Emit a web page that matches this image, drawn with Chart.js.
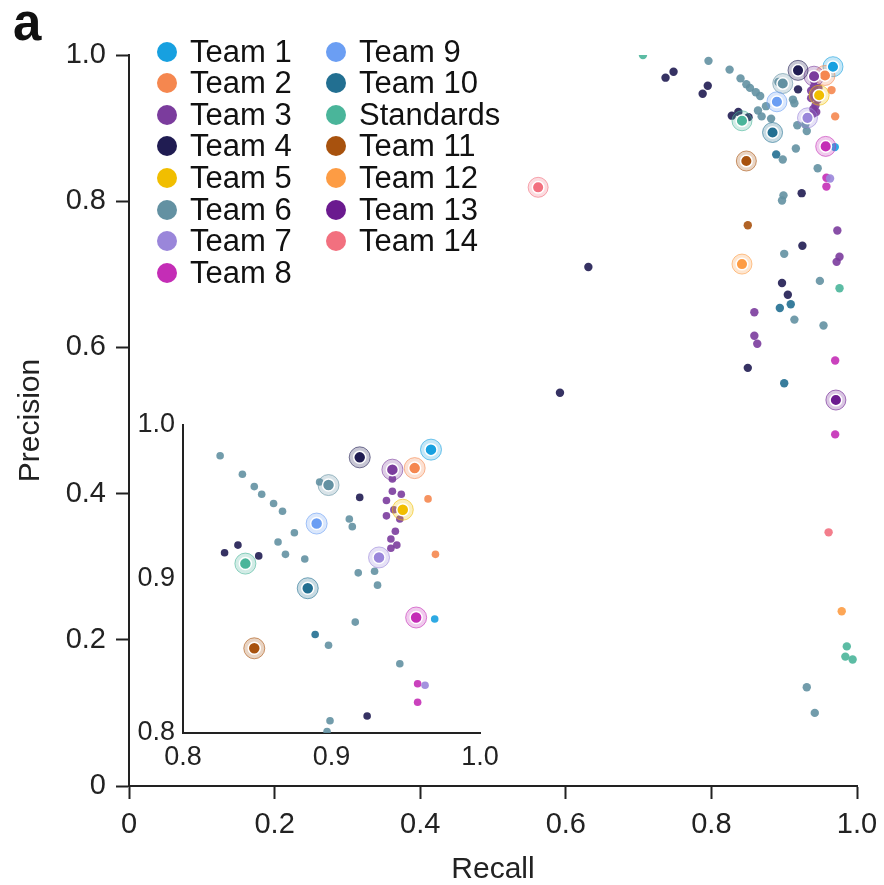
<!DOCTYPE html>
<html>
<head>
<meta charset="utf-8">
<script src="https://cdn.jsdelivr.net/npm/chart.js@4.4.1/dist/chart.umd.min.js"></script>
<style>
    body { margin: 0; background: #fff; font-family: "Liberation Sans", Arial, sans-serif; }
    #wrap { position: relative; width: 884px; height: 885px; overflow: hidden; }
    #main { position: absolute; left: 0; top: 0; }
    #inset { position: absolute; left: 100px; top: 405px; }
    #panel { position: absolute; left: 13px; top: -3px; font-size: 51px; font-weight: bold; line-height: 1; color: #111; }
    .item { position: absolute; display: flex; align-items: center; height: 32px; font-size: 31px; color: #111; white-space: nowrap; }
    .dot { width: 20px; height: 20px; border-radius: 50%; margin-right: 13px; }
</style>
</head>
<body>
<div id="wrap">
    <canvas id="main" width="884" height="885"></canvas>
    <canvas id="inset" width="400" height="375"></canvas>
    <div id="panel">a</div>
    <div id="legend"></div>
</div>
<script>
// legend order (two columns, column-major)
const teams = ['Team 1', 'Team 2', 'Team 3', 'Team 4', 'Team 5', 'Team 6', 'Team 7', 'Team 8',
               'Team 9', 'Team 10', 'Standards', 'Team 11', 'Team 12', 'Team 13', 'Team 14'];
const teamColors = ['#17a0e0', '#f5874f', '#7b3c9d', '#201c52', '#f1be00', '#6391a2', '#9a86da', '#c42db6',
                    '#6b9ef3', '#226f91', '#4ab59a', '#a8520e', '#fd9c44', '#6b1a8f', '#f2707f'];

// highlighted (best) submission of each team
const bestRecall    = [0.967, 0.956, 0.941, 0.919, 0.948, 0.898, 0.932, 0.957, 0.890, 0.884, 0.842, 0.848, 0.842, 0.971, 0.562];
const bestPrecision = [0.984, 0.972, 0.971, 0.979, 0.945, 0.961, 0.914, 0.875, 0.936, 0.894, 0.910, 0.855, 0.714, 0.528, 0.819];

// other submissions, [recall, precision]
const team1Runs = [[0.9695, 0.874]];
const team2Runs = [[0.965, 0.952], [0.970, 0.916]];
const team3Runs = [[0.941, 0.965], [0.941, 0.957], [0.947, 0.955], [0.937, 0.951], [0.942, 0.945], [0.937, 0.941],
                   [0.946, 0.939], [0.943, 0.931], [0.940, 0.926], [0.944, 0.922], [0.940, 0.920], [0.973, 0.760],
                   [0.976, 0.724], [0.972, 0.717], [0.859, 0.648], [0.859, 0.616], [0.863, 0.605]];
const team4Runs = [[0.919, 0.953], [0.828, 0.917], [0.837, 0.922], [0.851, 0.915], [0.924, 0.811], [0.592, 0.538],
                   [0.631, 0.710], [0.737, 0.969], [0.748, 0.977], [0.795, 0.958], [0.788, 0.947], [0.925, 0.739],
                   [0.897, 0.688], [0.905, 0.672], [0.850, 0.572]];
const team5Runs = [];
const team6Runs = [[0.796, 0.992], [0.825, 0.980], [0.840, 0.968], [0.848, 0.960], [0.853, 0.955], [0.861, 0.949],
                   [0.867, 0.944], [0.875, 0.930], [0.864, 0.924], [0.869, 0.916], [0.882, 0.913], [0.892, 0.963],
                   [0.912, 0.939], [0.914, 0.934], [0.918, 0.904], [0.929, 0.905], [0.931, 0.896], [0.916, 0.872],
                   [0.898, 0.857], [0.946, 0.845], [0.899, 0.808], [0.897, 0.801], [0.900, 0.728], [0.949, 0.691],
                   [0.914, 0.638], [0.954, 0.630], [0.931, 0.135], [0.942, 0.100]];
const team7Runs = [[0.963, 0.831]];
const team8Runs = [[0.958, 0.832], [0.958, 0.820], [0.970, 0.582], [0.970, 0.481]];
const team9Runs = [];
const team10Runs = [[0.889, 0.864], [0.909, 0.659], [0.894, 0.654], [0.900, 0.551]];
const standardsRuns = [[0.706, 1.0], [0.976, 0.681], [0.986, 0.191], [0.984, 0.177], [0.994, 0.173]];
const team11Runs = [[0.850, 0.767]];
const team12Runs = [[0.979, 0.239]];
const team13Runs = [];
const team14Runs = [[0.961, 0.347]];

const otherRuns = [team1Runs, team2Runs, team3Runs, team4Runs, team5Runs, team6Runs, team7Runs, team8Runs,
                   team9Runs, team10Runs, standardsRuns, team11Runs, team12Runs, team13Runs, team14Runs];

Chart.defaults.font.family = '"Liberation Sans", Arial, sans-serif';
Chart.defaults.color = '#222';

function rgba(hex, a) {
    const n = parseInt(hex.slice(1), 16);
    return `rgba(${(n >> 16) & 255},${(n >> 8) & 255},${n & 255},${a})`;
}

function buildDatasets(smallR, coreR, haloR, clip) {
    const sets = teams.map((name, i) => ({
        label: name,
        data: otherRuns[i].map(([x, y]) => ({ x, y })),
        pointRadius: smallR,
        backgroundColor: rgba(teamColors[i], 0.9),
        borderWidth: 0,
        order: 2,
        clip
    }));
    const best = teams.map((n, i) => ({ x: bestRecall[i], y: bestPrecision[i] }));
    sets.push({
        label: 'halo', data: best, pointRadius: haloR,
        backgroundColor: teamColors.map(c => rgba(c, 0.25)),
        borderColor: teamColors.map(c => rgba(c, 0.6)),
        borderWidth: 1, order: 1, clip
    });
    sets.push({
        label: 'best', data: best, pointRadius: coreR,
        backgroundColor: teamColors, borderColor: '#fff', borderWidth: 1.5, order: 0, clip
    });
    return sets;
}

// keep the plot area fixed, whatever the label overhang
const fixX = h => s => { s.height = h; s.paddingLeft = 0; s.paddingRight = 0; };
const fixY = w => s => { s.width = w; s.paddingTop = 0; s.paddingBottom = 0; };
const fmtMain = v => v === 0 ? '0' : v.toFixed(1);

new Chart(document.getElementById('main'), {
    type: 'scatter',
    data: { datasets: buildDatasets(4.2, 5.8, 10, { left: false, top: 0, right: false, bottom: false }) },
    options: {
        responsive: false,
        animation: false,
        layout: { padding: { left: 0, top: 55, right: 27, bottom: 0 } },
        plugins: { legend: { display: false }, tooltip: { enabled: false } },
        scales: {
            x: {
                type: 'linear', min: 0, max: 1,
                afterFit: fixX(99),
                ticks: { stepSize: 0.2, padding: 9, font: { size: 29 }, callback: fmtMain },
                grid: { drawOnChartArea: false, tickLength: 13, tickColor: '#222', tickWidth: 2 },
                border: { color: '#222', width: 2 },
                title: { display: true, text: 'Recall', font: { size: 30, lineHeight: 1 }, padding: { top: 0, bottom: 0 } }
            },
            y: {
                type: 'linear', min: 0, max: 1,
                afterFit: fixY(129),
                ticks: { stepSize: 0.2, padding: 10, font: { size: 29 }, callback: fmtMain },
                grid: { drawOnChartArea: false, tickLength: 13, tickColor: '#222', tickWidth: 2 },
                border: { color: '#222', width: 2 },
                title: { display: true, text: 'Precision', font: { size: 30, lineHeight: 1 }, padding: { top: 16, bottom: 0 } }
            }
        }
    }
});

// zoomed inset, 0.8 - 1.0
new Chart(document.getElementById('inset'), {
    type: 'scatter',
    data: { datasets: buildDatasets(3.8, 6, 10.5, 0) },
    options: {
        responsive: false,
        animation: false,
        layout: { padding: { left: 0, top: 20, right: 20, bottom: 0 } },
        plugins: { legend: { display: false }, tooltip: { enabled: false } },
        scales: {
            x: {
                type: 'linear', min: 0.8, max: 1,
                afterFit: fixX(47),
                ticks: { stepSize: 0.1, padding: 8, font: { size: 27 }, callback: v => v.toFixed(1) },
                grid: { drawOnChartArea: false, drawTicks: false },
                border: { color: '#222', width: 2 }
            },
            y: {
                type: 'linear', min: 0.8, max: 1,
                afterFit: fixY(83),
                ticks: { stepSize: 0.1, padding: 8, font: { size: 27 }, callback: v => v.toFixed(1) },
                grid: { drawOnChartArea: false, drawTicks: false },
                border: { color: '#222', width: 2 }
            }
        }
    }
});

// legend, two columns
const legend = document.getElementById('legend');
teams.forEach((name, i) => {
    const col = i < 8 ? 0 : 1;
    const row = i < 8 ? i : i - 8;
    const item = document.createElement('div');
    item.className = 'item';
    item.style.left = (col === 0 ? 157 : 326) + 'px';
    item.style.top = (51.7 + row * 31.57 - 16) + 'px';
    item.innerHTML = `<span class="dot" style="background:${teamColors[i]}"></span><span>${name}</span>`;
    legend.appendChild(item);
});
</script>
</body>
</html>
